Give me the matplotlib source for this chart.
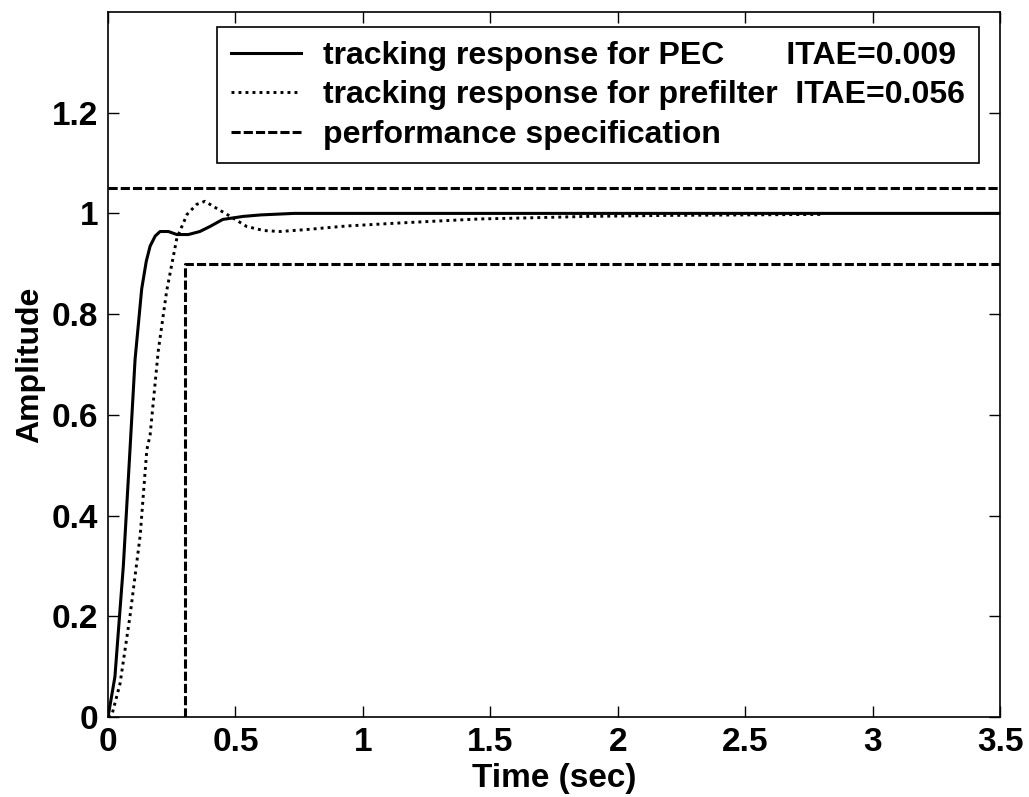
import matplotlib
matplotlib.use("Agg")
from matplotlib import pyplot as plt

plt.rcParams['font.family'] = ['Liberation Sans', 'DejaVu Sans']
plt.rcParams['font.weight'] = 'bold'

# tracking response for PEC (solid)
t_pec = [0.0, 0.027, 0.06, 0.086, 0.106, 0.132, 0.15, 0.165, 0.185, 0.204, 0.237, 0.27, 0.315,
         0.36, 0.40, 0.45, 0.53, 0.60, 0.73, 1.0, 2.0, 3.5]
y_pec = [0.0, 0.08, 0.30, 0.53, 0.71, 0.85, 0.905, 0.935, 0.955, 0.964, 0.964, 0.958, 0.958,
         0.964, 0.974, 0.988, 0.994, 0.997, 1.0, 1.0, 1.0, 1.0]

# tracking response for prefilter (dotted)
t_pre = [0.0, 0.015, 0.047, 0.086, 0.126, 0.152, 0.165, 0.197, 0.23, 0.27, 0.31,
         0.348, 0.38, 0.426, 0.48, 0.544, 0.61, 0.675, 0.78, 0.936, 1.146, 1.30,
         1.46, 1.64, 1.88, 2.19, 2.5, 2.8]
y_pre = [0.0, 0.004, 0.066, 0.20, 0.36, 0.53, 0.56, 0.727, 0.846, 0.951, 0.998,
         1.018, 1.024, 1.01, 0.994, 0.974, 0.966, 0.964, 0.968, 0.975, 0.981, 0.985,
         0.989, 0.991, 0.994, 0.996, 0.997, 0.998]

# performance specification (dashed)
t_upper = [0.0, 3.5]
y_upper = [1.05, 1.05]
t_lower = [0.3, 0.3, 3.5]
y_lower = [0.0, 0.9, 0.9]

labels = ['tracking response for PEC       ITAE=0.009',
          'tracking response for prefilter  ITAE=0.056',
          'performance specification']

fig = plt.figure(figsize=(10.29, 7.97), dpi=100)
ax = fig.add_axes([0.105, 0.1004, 0.867, 0.8846])

ax.plot(t_pec, y_pec, 'k-', lw=2.2, label=labels[0])
ax.plot(t_pre, y_pre, color='k', ls=(0, (1, 1.4)), lw=2.1, label=labels[1])
ax.plot(t_upper, y_upper, color='k', ls=(0, (3, 1)), lw=2.2, label=labels[2])
ax.plot(t_lower, y_lower, color='k', ls=(0, (3, 1)), lw=2.2)

ax.set_xlim(0, 3.5)
ax.set_ylim(0, 1.4)
ax.set_xticks([0, 0.5, 1, 1.5, 2, 2.5, 3, 3.5])
ax.set_xticklabels(['0', '0.5', '1', '1.5', '2', '2.5', '3', '3.5'])
ax.set_yticks([0, 0.2, 0.4, 0.6, 0.8, 1, 1.2])
ax.set_yticklabels(['0', '0.2', '0.4', '0.6', '0.8', '1', '1.2'])
ax.tick_params(direction='in', length=8, width=1, top=True, right=True,
               labelsize=24, pad=7)
for s in ax.spines.values():
    s.set_linewidth(1.2)

ax.set_xlabel('Time (sec)', fontsize=24, fontweight='bold', labelpad=4)
ax.set_ylabel('Amplitude', fontsize=23, fontweight='bold', labelpad=5)

leg = ax.legend(loc='upper right', bbox_to_anchor=(0.976, 0.978), fontsize=23,
                frameon=True, fancybox=False, edgecolor='k', framealpha=1,
                handlelength=2.2, handletextpad=0.7, borderpad=0.42,
                labelspacing=0.3, borderaxespad=0)
leg.get_frame().set_linewidth(1.2)

fig.savefig('out.png', dpi=100)
